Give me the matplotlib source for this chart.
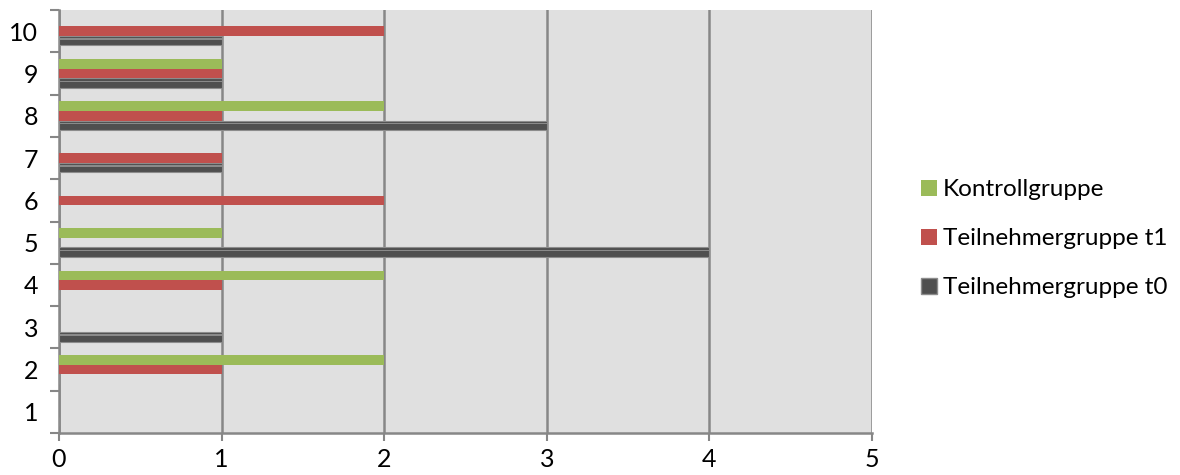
import matplotlib
matplotlib.use("Agg")
import matplotlib.pyplot as plt
import numpy as np
from matplotlib.patches import Patch

categories = ["1", "2", "3", "4", "5", "6", "7", "8", "9", "10"]
t0_values = [0, 0, 1, 0, 4, 0, 1, 3, 1, 1]
t1_values = [0, 1, 0, 1, 0, 2, 1, 1, 1, 2]
kontroll_values = [0, 2, 0, 2, 1, 0, 0, 2, 1, 0]
x_ticks = [0, 1, 2, 3, 4, 5]

C_K = "#9BBB59"
C_T1 = "#C0504D"
C_T0 = "#4F4F4F"
GRID = "#878787"

fig = plt.figure(figsize=(11.8, 4.75), dpi=100)
ax = fig.add_axes([0.05, 0.0884, 0.689, 0.8905])
ax.set_facecolor("#E0E0E0")

y = np.arange(1, len(categories) + 1)
h = 0.225

ax.barh(y - h, t0_values, height=h, color=C_T0, edgecolor="#8C8C8C", linewidth=0.8, zorder=3)
# bevel highlight for 3D look
ax.barh(y - h + h * 0.18, t0_values, height=h * 0.14, color="#8A8A8A", linewidth=0, zorder=4)
ax.barh(y, t1_values, height=h, color=C_T1, linewidth=0, zorder=3)
ax.barh(y + h, kontroll_values, height=h, color=C_K, linewidth=0, zorder=3)

ax.set_xlim(0, 5)
ax.set_ylim(0.5, len(categories) + 0.5)
ax.set_xticks(x_ticks)
ax.set_xticklabels([str(v) for v in x_ticks], fontsize=18, family="Lato")
ax.xaxis.grid(True, color=GRID, linewidth=1.8, zorder=1)
ax.set_axisbelow(True)

ax.set_yticks(np.arange(0.5, len(categories) + 1, 1.0))
ax.set_yticklabels([])
ax.set_yticks(y, minor=True)
ax.set_yticklabels(categories, minor=True, fontsize=18, family="Lato")
ax.tick_params(axis="y", which="major", length=6.5, width=1.5, color=GRID)
ax.tick_params(axis="y", which="minor", length=0, pad=15)
ax.tick_params(axis="x", which="major", length=6, width=1.5, color=GRID, pad=5)

for s in ["top", "right"]:
    ax.spines[s].set_visible(False)
for s in ["left", "bottom"]:
    ax.spines[s].set_color(GRID)
    ax.spines[s].set_linewidth(1.8)

handles = [
    Patch(facecolor=C_K, edgecolor="none", label="Kontrollgruppe"),
    Patch(facecolor=C_T1, edgecolor="none", label="Teilnehmergruppe t1"),
    Patch(facecolor=C_T0, edgecolor="#8C8C8C", label="Teilnehmergruppe t0"),
]
leg = fig.legend(handles=handles, loc="center left", bbox_to_anchor=(0.762, 0.497),
                 frameon=False, prop={"family": "Lato", "size": 17.5},
                 handlelength=0.65, handleheight=0.65, handletextpad=0.25,
                 labelspacing=1.15)

fig.savefig("out.png", dpi=100)
